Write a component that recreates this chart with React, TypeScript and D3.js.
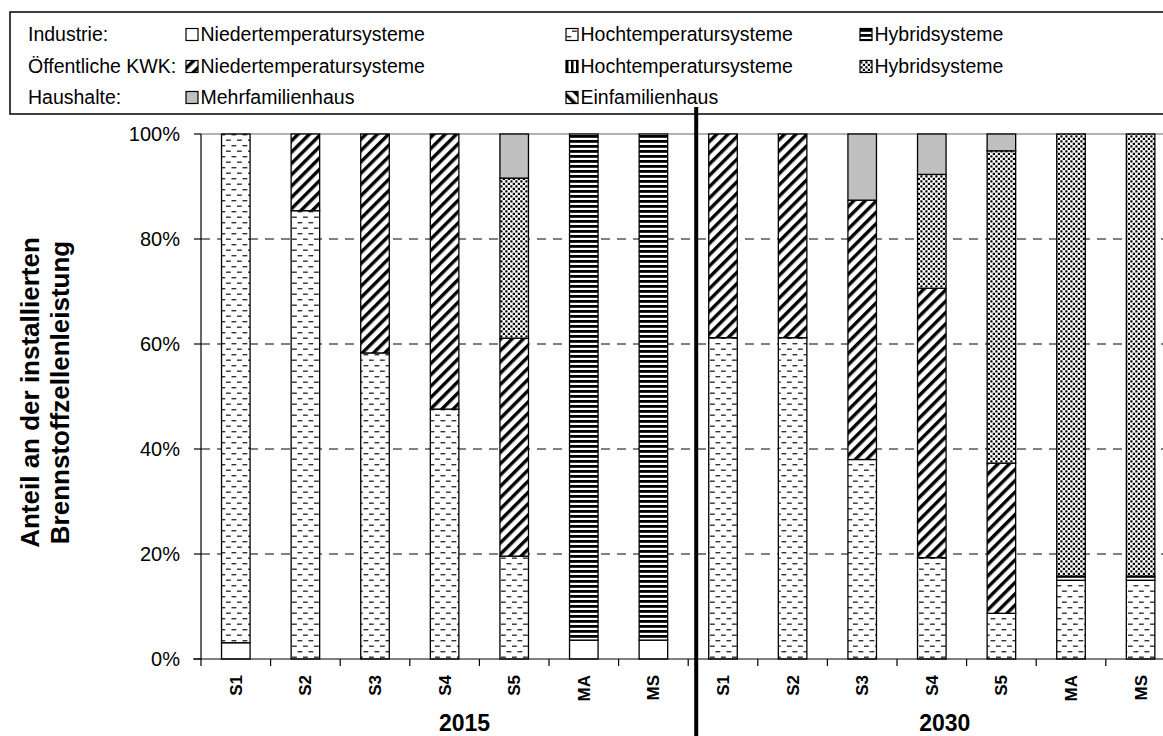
import React from "react";
import * as d3 from "d3";

const years = ["2015", "2030"];
const scenarios = ["S1", "S2", "S3", "S4", "S5", "MA", "MS"];
const yTicks = [0, 20, 40, 60, 80, 100];

// shares in % per category (2015 S1..MS, 2030 S1..MS)
const indNieder = [3.1, 0, 0, 0, 0, 3.6, 3.6, 0, 0, 0, 0, 0, 0, 0];
const indHoch = [96.9, 85.4, 58.3, 47.6, 19.6, 0, 0, 61.2, 61.2, 38.0, 19.3, 8.7, 15.0, 15.0];
const indHybrid = [0, 0, 0, 0, 0, 96.4, 96.4, 0, 0, 0, 0, 0, 0.8, 0.8];
const oeNieder = [0, 14.6, 41.7, 52.4, 41.5, 0, 0, 38.8, 38.8, 49.4, 51.3, 28.6, 0, 0];
const oeHoch = [0, 0, 0, 0, 0, 0, 0, 0, 0, 0, 0, 0, 0, 0];
const oeHybrid = [0, 0, 0, 0, 30.5, 0, 0, 0, 0, 0, 21.7, 59.5, 84.2, 84.2];
const mfh = [0, 0, 0, 0, 8.4, 0, 0, 0, 0, 12.6, 7.7, 3.2, 0, 0];
const efh = [0, 0, 0, 0, 0, 0, 0, 0, 0, 0, 0, 0, 0, 0];

const seriesKeys = ["indNieder", "indHoch", "indHybrid", "oeNieder", "oeHoch", "oeHybrid", "mfh", "efh"];
const seriesValues: Record<string, number[]> = { indNieder, indHoch, indHybrid, oeNieder, oeHoch, oeHybrid, mfh, efh };
const seriesFill: Record<string, string> = {
  indNieder: "#ffffff",
  indHoch: "url(#pDash)",
  indHybrid: "url(#pHStripe)",
  oeNieder: "url(#pDiag)",
  oeHoch: "url(#pVStripe)",
  oeHybrid: "url(#pDots)",
  mfh: "#c0c0c0",
  efh: "url(#pBackDiag)",
};

const legendRowLabels = ["Industrie:", "Öffentliche KWK:", "Haushalte:"];
const legendItems = [
  [["indNieder", "Niedertemperatursysteme"], ["indHoch", "Hochtemperatursysteme"], ["indHybrid", "Hybridsysteme"]],
  [["oeNieder", "Niedertemperatursysteme"], ["oeHoch", "Hochtemperatursysteme"], ["oeHybrid", "Hybridsysteme"]],
  [["mfh", "Mehrfamilienhaus"], ["efh", "Einfamilienhaus"]],
];

const W = 1163;
const H = 736;
const FONT = "Arial, 'Liberation Sans', sans-serif";

export default function App() {
  const categories = years.flatMap((yr) => scenarios.map((s) => `${yr}|${s}`));
  const rows = categories.map((c, i) => {
    const r: any = { cat: c };
    seriesKeys.forEach((k) => (r[k] = seriesValues[k][i]));
    return r;
  });
  const stacked = d3.stack<any>().keys(seriesKeys)(rows);

  const plotLeft = 201;
  const step = 69.6;
  const x = d3.scaleBand<string>().domain(categories).range([plotLeft, plotLeft + step * categories.length]).padding(0);
  const y = d3.scaleLinear().domain([0, 100]).range([659, 134]);
  const barW = x.bandwidth() * 0.41;
  const plotRight = plotLeft + step * categories.length;

  const legendCols = [186, 566, 860];
  const legendRowY = [34, 66, 97];

  const divX = (x(`2030|S1`) as number) + 8;
  const groupLabelX = [
    (x("2015|S4") as number) + x.bandwidth() / 2 + 20,
    (x("2030|S4") as number) + x.bandwidth() / 2 + 13,
  ];

  return (
    <svg width={W} height={H} style={{ position: "absolute", left: 0, top: 0, background: "#fff" }} fontFamily={FONT}>
      <defs>
        <pattern id="pDash" patternUnits="userSpaceOnUse" width={11} height={11}>
          <rect width={11} height={11} fill="#fff" />
          <rect x={0.5} y={2} width={4.8} height={1.4} fill="#333" />
          <rect x={6} y={7.5} width={4.8} height={1.4} fill="#333" />
        </pattern>
        <pattern id="pHStripe" patternUnits="userSpaceOnUse" width={8} height={5}>
          <rect width={8} height={5} fill="#fff" />
          <rect y={0} width={8} height={2.8} fill="#000" />
        </pattern>
        <pattern id="pVStripe" patternUnits="userSpaceOnUse" width={5} height={8}>
          <rect width={5} height={8} fill="#fff" />
          <rect x={0} width={2.5} height={8} fill="#000" />
        </pattern>
        <pattern id="pDiag" patternUnits="userSpaceOnUse" width={8} height={8} patternTransform="rotate(45)">
          <rect width={8} height={8} fill="#fff" />
          <rect x={0} width={3.4} height={8} fill="#000" />
        </pattern>
        <pattern id="pBackDiag" patternUnits="userSpaceOnUse" width={8} height={8} patternTransform="rotate(-45)">
          <rect width={8} height={8} fill="#fff" />
          <rect x={0} width={3.4} height={8} fill="#000" />
        </pattern>
        <pattern id="pDots" patternUnits="userSpaceOnUse" width={5} height={5}>
          <rect width={5} height={5} fill="#fff" />
          <rect x={0.3} y={0.3} width={2.2} height={2.2} fill="#000" />
          <rect x={2.8} y={2.8} width={2.2} height={2.2} fill="#000" />
        </pattern>
      </defs>

      {/* Legend */}
      <rect x={10} y={12} width={W} height={102} fill="#fff" stroke="#000" strokeWidth={1.5} />
      {legendRowLabels.map((lbl, ri) => (
        <text key={lbl} x={28} y={legendRowY[ri]} dy="0.35em" fontSize={19.5} fill="#000">
          {lbl}
        </text>
      ))}
      {legendItems.map((row, ri) =>
        row.map(([key, label], ci) => (
          <g key={`${ri}-${ci}`} transform={`translate(${legendCols[ci]},${legendRowY[ri]})`}>
            <rect x={0} y={-5.5} width={12} height={12} fill={seriesFill[key]} stroke="#000" strokeWidth={1.2} />
            <text x={14.5} y={0} dy="0.35em" fontSize={19.5} fill="#000">
              {label}
            </text>
          </g>
        ))
      )}

      {/* gridlines */}
      {yTicks.filter((t) => t > 0 && t < 100).map((t) => (
        <line key={t} x1={plotLeft} x2={plotRight} y1={y(t)} y2={y(t)} stroke="#000" strokeWidth={1} strokeDasharray="9,7" />
      ))}
      <line x1={plotLeft} x2={plotRight} y1={y(100)} y2={y(100)} stroke="#666" strokeWidth={1.2} />

      {/* bars */}
      {stacked.map((s) =>
        s.map((d, i) => {
          const h = y(d[0]) - y(d[1]);
          if (h <= 0) return null;
          const cx = (x(categories[i]) as number) + x.bandwidth() / 2;
          return (
            <rect
              key={`${s.key}-${i}`}
              x={cx - barW / 2}
              y={y(d[1])}
              width={barW}
              height={h}
              fill={seriesFill[s.key]}
              stroke="#000"
              strokeWidth={1.3}
            />
          );
        })
      )}

      {/* y axis */}
      <line x1={plotLeft} x2={plotLeft} y1={y(100)} y2={y(0)} stroke="#000" strokeWidth={1.2} />
      {yTicks.map((t) => (
        <g key={t}>
          <line x1={plotLeft - 7} x2={plotLeft} y1={y(t)} y2={y(t)} stroke="#000" strokeWidth={1.2} />
          <text x={180} y={y(t)} dy="0.35em" textAnchor="end" fontSize={20} fill="#000">
            {`${t}%`}
          </text>
        </g>
      ))}
      <text
        transform={`translate(30,${(y(0) + y(100)) / 2 - 4}) rotate(-90)`}
        textAnchor="middle"
        dy="0.35em"
        fontSize={26}
        fontWeight="bold"
        fill="#000"
      >
        Anteil an der installierten
      </text>
      <text
        transform={`translate(60,${(y(0) + y(100)) / 2 - 4}) rotate(-90)`}
        textAnchor="middle"
        dy="0.35em"
        fontSize={26}
        fontWeight="bold"
        fill="#000"
      >
        Brennstoffzellenleistung
      </text>

      {/* x axis */}
      <line x1={plotLeft - 8} x2={plotRight} y1={y(0)} y2={y(0)} stroke="#000" strokeWidth={1.2} />
      {categories.map((c) => (
        <line key={c} x1={x(c) as number} x2={x(c) as number} y1={y(0)} y2={y(0) + 7} stroke="#000" strokeWidth={1.2} />
      ))}
      {categories.map((c) => {
        const cx = (x(c) as number) + x.bandwidth() / 2;
        return (
          <text
            key={`l-${c}`}
            transform={`translate(${cx},675) rotate(-90)`}
            textAnchor="end"
            dy="0.35em"
            fontSize={17}
            fontWeight="bold"
            fill="#000"
          >
            {c.split("|")[1]}
          </text>
        );
      })}
      {years.map((yr, i) => (
        <text key={yr} x={groupLabelX[i]} y={731} textAnchor="middle" fontSize={23} fontWeight="bold" fill="#000">
          {yr}
        </text>
      ))}

      {/* divider */}
      <line x1={divX} x2={divX} y1={107} y2={H} stroke="#000" strokeWidth={4} />
    </svg>
  );
}
